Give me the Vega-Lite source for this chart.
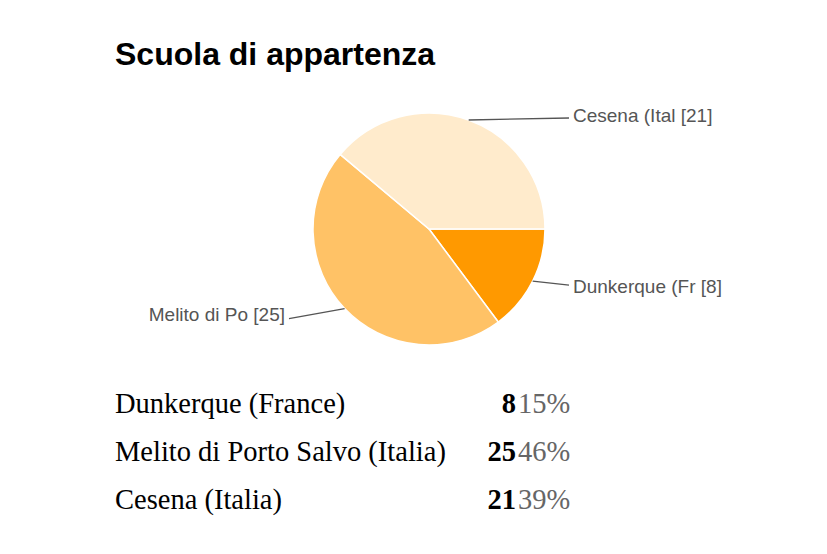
{
  "$schema": "https://vega.github.io/schema/vega-lite/v6.json",
  "padding": {"left": 115, "top": 39, "right": 5, "bottom": 5},
  "background": "white",
  "config": {"view": {"stroke": null}},
  "title": {
    "text": "Scuola di appartenza",
    "anchor": "start",
    "font": "Liberation Sans",
    "fontSize": 32,
    "fontWeight": "bold",
    "color": "#000000",
    "offset": 12
  },
  "datasets": {
    "schools": [
      {"school": "Dunkerque (France)", "label": "Dunkerque (Fr [8]", "count": 8, "share": 0.15, "rank": 1},
      {"school": "Melito di Porto Salvo (Italia)", "label": "Melito di Po [25]", "count": 25, "share": 0.46, "rank": 2},
      {"school": "Cesena (Italia)", "label": "Cesena (Ital [21]", "count": 21, "share": 0.39, "rank": 3}
    ]
  },
  "spacing": 15,
  "vconcat": [
    {
      "width": 628,
      "height": 290,
      "data": {"name": "schools"},
      "layer": [
        {
          "mark": {"type": "arc", "outerRadius": 116, "stroke": "#ffffff", "strokeWidth": 1.5},
          "encoding": {
            "theta": {"field": "count", "type": "quantitative", "stack": true, "scale": {"range": [1.5707963, 7.8539816]}},
            "order": {"field": "rank", "type": "quantitative"},
            "color": {
              "field": "school",
              "type": "nominal",
              "scale": {
                "domain": ["Dunkerque (France)", "Melito di Porto Salvo (Italia)", "Cesena (Italia)"],
                "range": ["#ff9900", "#ffc266", "#ffebcc"]
              },
              "legend": null
            }
          }
        },
        {
          "transform": [
            {"window": [{"op": "sum", "field": "count", "as": "cum"}], "sort": [{"field": "rank"}], "frame": [null, 0]},
            {"joinaggregate": [{"op": "sum", "field": "count", "as": "total"}]},
            {"calculate": "PI / 2 + 2 * PI * (datum.cum - datum.count / 2) / datum.total", "as": "mid"},
            {"calculate": "sin(datum.mid)", "as": "px"},
            {"calculate": "cos(datum.mid)", "as": "py"},
            {"calculate": "datum.px > 0 ? 1.207 : -1.207", "as": "ex"}
          ],
          "layer": [
            {
              "mark": {
                "type": "rule",
                "color": "#555555",
                "strokeWidth": 1.3,
                "y2Offset": {"expr": "datum.py > 0 ? -2 : (datum.px > 0 ? 4 : 10)"}
              },
              "encoding": {
                "x": {"field": "px", "type": "quantitative", "scale": {"domain": [-2.7069, 2.7069], "nice": false, "zero": false}, "axis": null},
                "x2": {"field": "ex"},
                "y": {"field": "py", "type": "quantitative", "scale": {"domain": [-1.25, 1.25], "nice": false, "zero": false}, "axis": null},
                "y2": {"field": "py"}
              }
            },
            {
              "mark": {
                "type": "text",
                "font": "Liberation Sans",
                "fontSize": 19,
                "color": "#555555",
                "baseline": "middle",
                "align": {"expr": "datum.px > 0 ? 'left' : 'right'"},
                "dx": {"expr": "datum.px > 0 ? 4 : -4"},
                "dy": {"expr": "datum.py > 0 ? -4 : 6"}
              },
              "encoding": {
                "x": {"field": "ex", "type": "quantitative"},
                "y": {"field": "py", "type": "quantitative"},
                "text": {"field": "label"}
              }
            }
          ]
        }
      ]
    },
    {
      "width": 628,
      "height": 144,
      "data": {"name": "schools"},
      "encoding": {
        "y": {"field": "school", "type": "nominal", "sort": {"field": "rank"}, "axis": null}
      },
      "layer": [
        {
          "mark": {"type": "text", "font": "Liberation Serif", "fontSize": 28.5, "color": "#000000", "align": "left", "baseline": "alphabetic"},
          "encoding": {
            "x": {"datum": 0, "type": "quantitative", "scale": {"domain": [0, 628], "nice": false, "zero": false}, "axis": null},
            "text": {"field": "school"}
          }
        },
        {
          "mark": {"type": "text", "font": "Liberation Serif", "fontSize": 28.5, "fontWeight": "bold", "color": "#000000", "align": "right", "baseline": "alphabetic"},
          "encoding": {
            "x": {"datum": 401, "type": "quantitative"},
            "text": {"field": "count", "type": "quantitative"}
          }
        },
        {
          "mark": {"type": "text", "font": "Liberation Serif", "fontSize": 28.5, "color": "#666666", "align": "left", "baseline": "alphabetic"},
          "encoding": {
            "x": {"datum": 403, "type": "quantitative"},
            "text": {"field": "share", "type": "quantitative", "format": ".0%"}
          }
        }
      ]
    }
  ]
}
